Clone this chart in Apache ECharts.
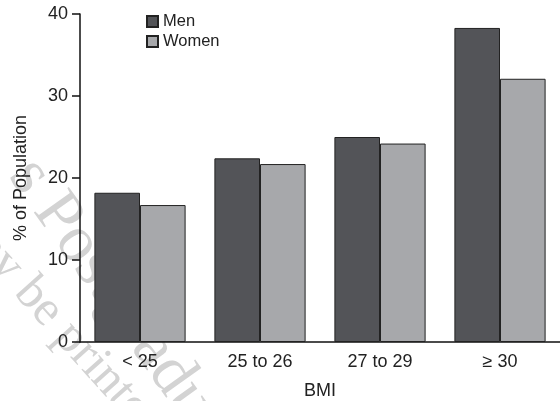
<!DOCTYPE html>
<html>
<head>
<meta charset="utf-8">
<script src="https://cdn.jsdelivr.net/npm/echarts@6/dist/echarts.min.js"></script>
<style>html,body{margin:0;padding:0;background:#fff}#c{width:560px;height:401px}</style>
</head>
<body>
<div id="c"></div>
<script>
const categories = ['< 25', '25 to 26', '27 to 29', '\u2265 30'];
const menValues = [18.2, 22.4, 25.0, 38.3];
const womenValues = [16.7, 21.7, 24.2, 32.1];
const yTicks = [0, 10, 20, 30, 40];
const seriesNames = ['Men', 'Women'];
const watermarkLines = ['s Postgraduate', 'may be printed'];

const font = '"Liberation Sans", Arial, sans-serif';
const serif = '"Liberation Serif", "Times New Roman", serif';
const chart = echarts.init(document.getElementById('c'), null, {renderer: 'canvas'});
chart.setOption({
  animation: false,
  backgroundColor: '#fff',
  textStyle: {fontFamily: font},
  graphic: [
    {type: 'text', z: 0, x: 22, y: 166, rotation: -0.95,
     style: {text: watermarkLines[0], font: '66px ' + serif, fill: '#d3d3d3', textVerticalAlign: 'middle'}},
    {type: 'text', z: 0, x: -43, y: 211, rotation: -0.84,
     style: {text: watermarkLines[1], font: '50px ' + serif, fill: '#d3d3d3', textVerticalAlign: 'middle'}}
  ],
  legend: {
    orient: 'vertical', left: 141, top: 8,
    itemWidth: 11, itemHeight: 11, itemGap: 3,
    icon: 'rect',
    textStyle: {fontSize: 16.5, color: '#222'},
    data: seriesNames
  },
  grid: {left: 80, right: 0, top: 14, bottom: 59, containLabel: false, outerBoundsMode: 'none'},
  xAxis: {
    type: 'category', data: categories,
    name: 'BMI', nameLocation: 'middle', nameGap: 40,
    nameTextStyle: {fontSize: 18, color: '#222'},
    axisLine: {lineStyle: {color: '#111', width: 1.5}},
    axisTick: {show: false},
    axisLabel: {fontSize: 18, color: '#222', margin: 11}
  },
  yAxis: {
    type: 'value', min: yTicks[0], max: yTicks[yTicks.length - 1], interval: 10,
    name: '% of Population', nameLocation: 'middle', nameGap: 50,
    nameTextStyle: {fontSize: 18, color: '#222'},
    axisLine: {show: true, lineStyle: {color: '#111', width: 1.5}},
    axisTick: {show: true, length: 8, lineStyle: {color: '#111', width: 1.5}},
    axisLabel: {fontSize: 18, color: '#222', margin: 12},
    splitLine: {show: false}
  },
  series: [
    {name: seriesNames[0], type: 'bar', data: menValues, barGap: '0%', barCategoryGap: '24%',
     itemStyle: {color: '#535458', borderColor: '#222', borderWidth: 1}},
    {name: seriesNames[1], type: 'bar', data: womenValues, barGap: '0%', barCategoryGap: '24%',
     itemStyle: {color: '#a7a8ab', borderColor: '#222', borderWidth: 1}}
  ]
});
</script>
</body>
</html>
